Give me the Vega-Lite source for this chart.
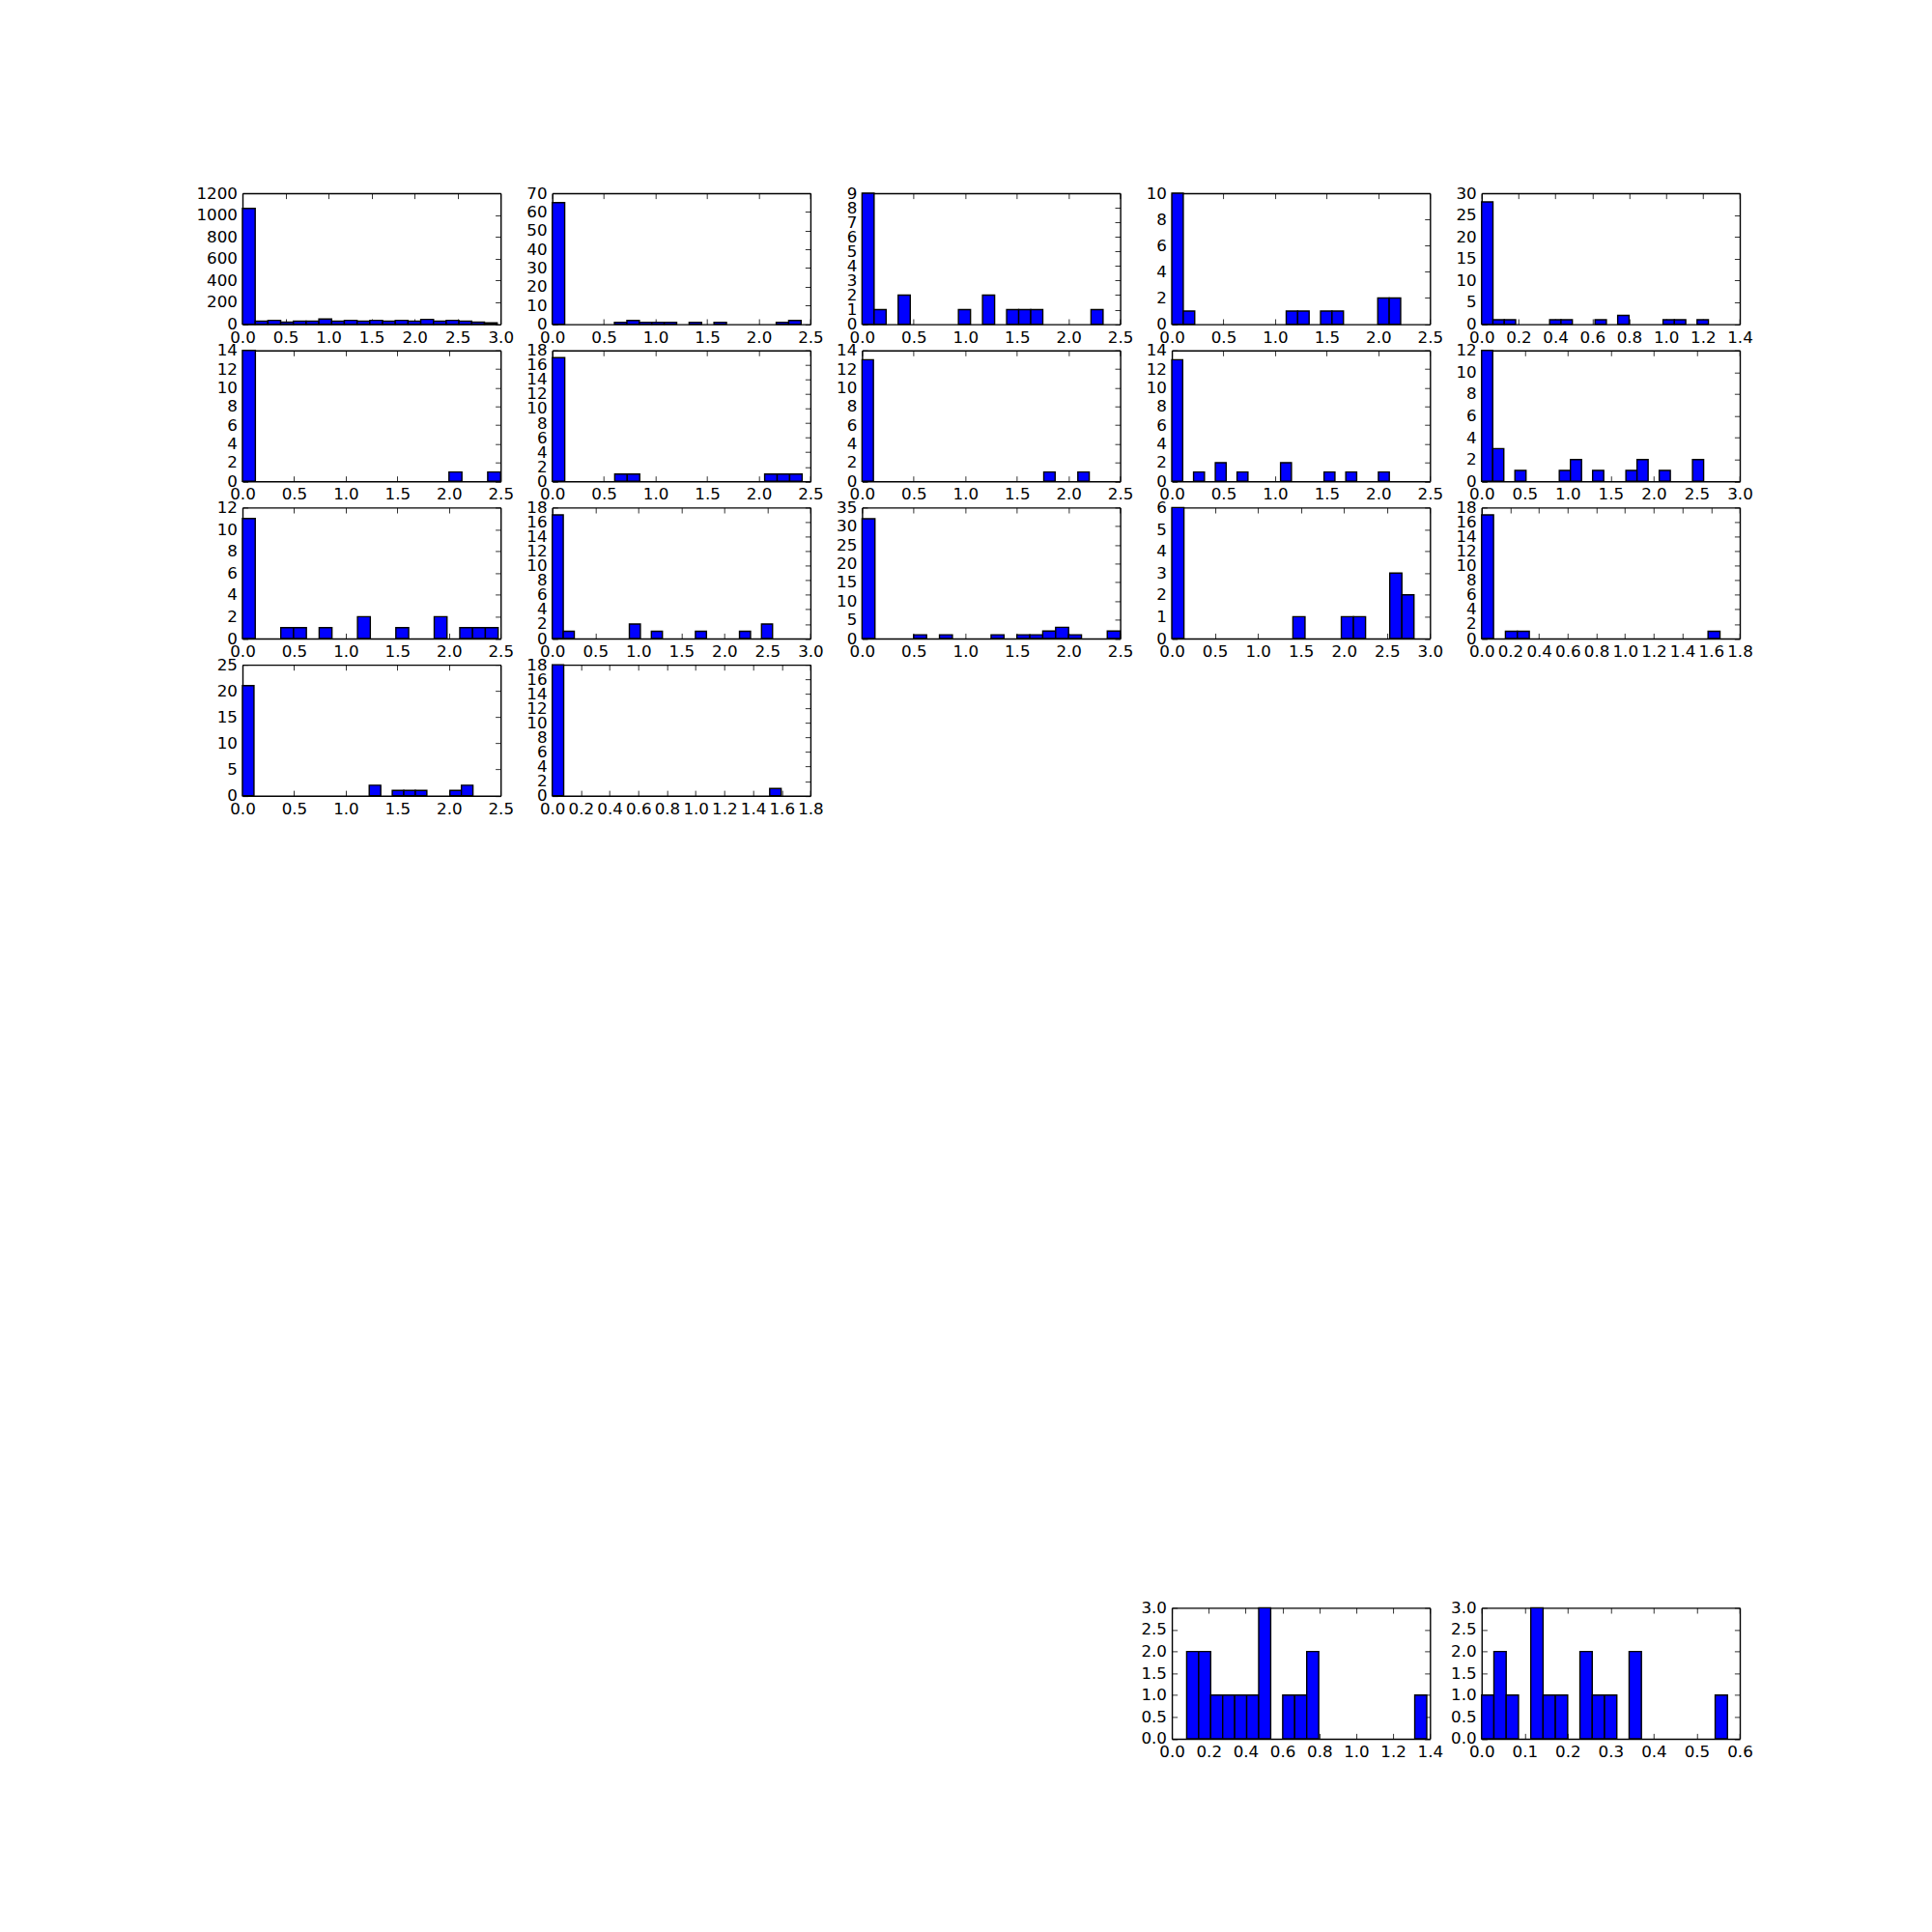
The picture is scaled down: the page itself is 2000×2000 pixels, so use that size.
{
"$schema": "https://vega.github.io/schema/vega-lite/v6.json",
"autosize": {"type": "pad"},
"padding": {"left": 202, "top": 192, "right": 50, "bottom": 50},
"background": "white",
"config": {
  "view": {"stroke": null},
  "axis": {"grid": false, "domainColor": "#000000", "domainWidth": 1.4, "tickColor": "#000000", "tickWidth": 0.8, "tickSize": -5.6, "labelFont": "DejaVu Sans", "labelFontSize": 16.7, "labelColor": "#000000", "labelPadding": 11.2, "labelOverlap": false, "labelFlush": false, "labelBound": false},
  "axisX": {"format": ".1f"},
  "axisY": {"format": "d"}
},
"data": {"values": [
{"p":1,"x0":0,"x1":0.148,"n":1060},
{"p":1,"x0":0.148,"x1":0.296,"n":27},
{"p":1,"x0":0.296,"x1":0.444,"n":35},
{"p":1,"x0":0.444,"x1":0.592,"n":18},
{"p":1,"x0":0.592,"x1":0.74,"n":27},
{"p":1,"x0":0.74,"x1":0.888,"n":27},
{"p":1,"x0":0.888,"x1":1.036,"n":47},
{"p":1,"x0":1.036,"x1":1.184,"n":27},
{"p":1,"x0":1.184,"x1":1.332,"n":35},
{"p":1,"x0":1.332,"x1":1.48,"n":27},
{"p":1,"x0":1.48,"x1":1.628,"n":35},
{"p":1,"x0":1.628,"x1":1.776,"n":27},
{"p":1,"x0":1.776,"x1":1.924,"n":35},
{"p":1,"x0":1.924,"x1":2.072,"n":27},
{"p":1,"x0":2.072,"x1":2.22,"n":44},
{"p":1,"x0":2.22,"x1":2.368,"n":27},
{"p":1,"x0":2.368,"x1":2.516,"n":35},
{"p":1,"x0":2.516,"x1":2.664,"n":27},
{"p":1,"x0":2.664,"x1":2.812,"n":18},
{"p":1,"x0":2.812,"x1":2.96,"n":12},
{"p":2,"x0":0,"x1":0.1205,"n":65},
{"p":2,"x0":0.6025,"x1":0.723,"n":1},
{"p":2,"x0":0.723,"x1":0.8435,"n":2},
{"p":2,"x0":0.8435,"x1":0.964,"n":1},
{"p":2,"x0":0.964,"x1":1.0845,"n":1},
{"p":2,"x0":1.0845,"x1":1.205,"n":1},
{"p":2,"x0":1.3255,"x1":1.446,"n":1},
{"p":2,"x0":1.5665,"x1":1.687,"n":1},
{"p":2,"x0":2.169,"x1":2.2895,"n":1},
{"p":2,"x0":2.2895,"x1":2.41,"n":2},
{"p":3,"x0":0,"x1":0.1167,"n":9},
{"p":3,"x0":0.1167,"x1":0.2334,"n":1},
{"p":3,"x0":0.3501,"x1":0.4668,"n":2},
{"p":3,"x0":0.9336,"x1":1.0503,"n":1},
{"p":3,"x0":1.167,"x1":1.2837,"n":2},
{"p":3,"x0":1.4004,"x1":1.5171,"n":1},
{"p":3,"x0":1.5171,"x1":1.6338,"n":1},
{"p":3,"x0":1.6338,"x1":1.7505,"n":1},
{"p":3,"x0":2.2173,"x1":2.334,"n":1},
{"p":4,"x0":0,"x1":0.1108,"n":10},
{"p":4,"x0":0.1108,"x1":0.2216,"n":1},
{"p":4,"x0":1.108,"x1":1.2188,"n":1},
{"p":4,"x0":1.2188,"x1":1.3296,"n":1},
{"p":4,"x0":1.4404,"x1":1.5512,"n":1},
{"p":4,"x0":1.5512,"x1":1.662,"n":1},
{"p":4,"x0":1.9944,"x1":2.1052,"n":2},
{"p":4,"x0":2.1052,"x1":2.216,"n":2},
{"p":5,"x0":0,"x1":0.0615,"n":28},
{"p":5,"x0":0.0615,"x1":0.123,"n":1},
{"p":5,"x0":0.123,"x1":0.1845,"n":1},
{"p":5,"x0":0.369,"x1":0.4305,"n":1},
{"p":5,"x0":0.4305,"x1":0.492,"n":1},
{"p":5,"x0":0.615,"x1":0.6765,"n":1},
{"p":5,"x0":0.738,"x1":0.7995,"n":2},
{"p":5,"x0":0.984,"x1":1.0455,"n":1},
{"p":5,"x0":1.0455,"x1":1.107,"n":1},
{"p":5,"x0":1.1685,"x1":1.23,"n":1},
{"p":6,"x0":0,"x1":0.125,"n":14},
{"p":6,"x0":2.0,"x1":2.125,"n":1},
{"p":6,"x0":2.375,"x1":2.5,"n":1},
{"p":7,"x0":0,"x1":0.121,"n":17},
{"p":7,"x0":0.605,"x1":0.726,"n":1},
{"p":7,"x0":0.726,"x1":0.847,"n":1},
{"p":7,"x0":2.057,"x1":2.178,"n":1},
{"p":7,"x0":2.178,"x1":2.299,"n":1},
{"p":7,"x0":2.299,"x1":2.42,"n":1},
{"p":8,"x0":0,"x1":0.11,"n":13},
{"p":8,"x0":1.76,"x1":1.87,"n":1},
{"p":8,"x0":2.09,"x1":2.2,"n":1},
{"p":9,"x0":0,"x1":0.1053,"n":13},
{"p":9,"x0":0.2106,"x1":0.3159,"n":1},
{"p":9,"x0":0.4212,"x1":0.5265,"n":2},
{"p":9,"x0":0.6318,"x1":0.7371,"n":1},
{"p":9,"x0":1.053,"x1":1.1583,"n":2},
{"p":9,"x0":1.4742,"x1":1.5795,"n":1},
{"p":9,"x0":1.6848,"x1":1.7901,"n":1},
{"p":9,"x0":2.0007,"x1":2.106,"n":1},
{"p":10,"x0":0,"x1":0.129,"n":12},
{"p":10,"x0":0.129,"x1":0.258,"n":3},
{"p":10,"x0":0.387,"x1":0.516,"n":1},
{"p":10,"x0":0.903,"x1":1.032,"n":1},
{"p":10,"x0":1.032,"x1":1.161,"n":2},
{"p":10,"x0":1.29,"x1":1.419,"n":1},
{"p":10,"x0":1.677,"x1":1.806,"n":1},
{"p":10,"x0":1.806,"x1":1.935,"n":2},
{"p":10,"x0":2.064,"x1":2.193,"n":1},
{"p":10,"x0":2.451,"x1":2.58,"n":2},
{"p":11,"x0":0,"x1":0.1238,"n":11},
{"p":11,"x0":0.3714,"x1":0.4952,"n":1},
{"p":11,"x0":0.4952,"x1":0.619,"n":1},
{"p":11,"x0":0.7428,"x1":0.8666,"n":1},
{"p":11,"x0":1.1142,"x1":1.238,"n":2},
{"p":11,"x0":1.4856,"x1":1.6094,"n":1},
{"p":11,"x0":1.857,"x1":1.9808,"n":2},
{"p":11,"x0":2.1046,"x1":2.2284,"n":1},
{"p":11,"x0":2.2284,"x1":2.3522,"n":1},
{"p":11,"x0":2.3522,"x1":2.476,"n":1},
{"p":12,"x0":0,"x1":0.128,"n":17},
{"p":12,"x0":0.128,"x1":0.256,"n":1},
{"p":12,"x0":0.896,"x1":1.024,"n":2},
{"p":12,"x0":1.152,"x1":1.28,"n":1},
{"p":12,"x0":1.664,"x1":1.792,"n":1},
{"p":12,"x0":2.176,"x1":2.304,"n":1},
{"p":12,"x0":2.432,"x1":2.56,"n":2},
{"p":13,"x0":0,"x1":0.125,"n":32},
{"p":13,"x0":0.5,"x1":0.625,"n":1},
{"p":13,"x0":0.75,"x1":0.875,"n":1},
{"p":13,"x0":1.25,"x1":1.375,"n":1},
{"p":13,"x0":1.5,"x1":1.625,"n":1},
{"p":13,"x0":1.625,"x1":1.75,"n":1},
{"p":13,"x0":1.75,"x1":1.875,"n":2},
{"p":13,"x0":1.875,"x1":2.0,"n":3},
{"p":13,"x0":2.0,"x1":2.125,"n":1},
{"p":13,"x0":2.375,"x1":2.5,"n":2},
{"p":14,"x0":0,"x1":0.1407,"n":6},
{"p":14,"x0":1.407,"x1":1.5477,"n":1},
{"p":14,"x0":1.9698,"x1":2.1105,"n":1},
{"p":14,"x0":2.1105,"x1":2.2512,"n":1},
{"p":14,"x0":2.5326,"x1":2.6733,"n":3},
{"p":14,"x0":2.6733,"x1":2.814,"n":2},
{"p":15,"x0":0,"x1":0.0831,"n":17},
{"p":15,"x0":0.1662,"x1":0.2493,"n":1},
{"p":15,"x0":0.2493,"x1":0.3324,"n":1},
{"p":15,"x0":1.5789,"x1":1.662,"n":1},
{"p":16,"x0":0,"x1":0.1116,"n":21},
{"p":16,"x0":1.2276,"x1":1.3392,"n":2},
{"p":16,"x0":1.4508,"x1":1.5624,"n":1},
{"p":16,"x0":1.5624,"x1":1.674,"n":1},
{"p":16,"x0":1.674,"x1":1.7856,"n":1},
{"p":16,"x0":2.0088,"x1":2.1204,"n":1},
{"p":16,"x0":2.1204,"x1":2.232,"n":2},
{"p":17,"x0":0,"x1":0.0798,"n":18},
{"p":17,"x0":1.5162,"x1":1.596,"n":1},
{"p":18,"x0":0.0805,"x1":0.1456,"n":2},
{"p":18,"x0":0.1456,"x1":0.2107,"n":2},
{"p":18,"x0":0.2107,"x1":0.2758,"n":1},
{"p":18,"x0":0.2758,"x1":0.3409,"n":1},
{"p":18,"x0":0.3409,"x1":0.406,"n":1},
{"p":18,"x0":0.406,"x1":0.4711,"n":1},
{"p":18,"x0":0.4711,"x1":0.5362,"n":3},
{"p":18,"x0":0.6013,"x1":0.6664,"n":1},
{"p":18,"x0":0.6664,"x1":0.7315,"n":1},
{"p":18,"x0":0.7315,"x1":0.7966,"n":2},
{"p":18,"x0":1.3174,"x1":1.3825,"n":1},
{"p":19,"x0":0,"x1":0.02857,"n":1},
{"p":19,"x0":0.02857,"x1":0.05714,"n":2},
{"p":19,"x0":0.05714,"x1":0.08571,"n":1},
{"p":19,"x0":0.11428,"x1":0.14285,"n":3},
{"p":19,"x0":0.14285,"x1":0.17142,"n":1},
{"p":19,"x0":0.17142,"x1":0.19999,"n":1},
{"p":19,"x0":0.22856,"x1":0.25713,"n":2},
{"p":19,"x0":0.25713,"x1":0.2857,"n":1},
{"p":19,"x0":0.2857,"x1":0.31427,"n":1},
{"p":19,"x0":0.34284,"x1":0.37141,"n":2},
{"p":19,"x0":0.54283,"x1":0.5714,"n":1}
]},
"bounds": "flush",
"columns": 5,
"spacing": {"row": 26.71, "column": 52.69},
"concat": [
{"width":267.24,"height":135.59,"transform":[{"filter":"datum.p==1"}],"layer":[
{"mark":{"type":"bar","fill":"#0000ff","stroke":"#000000","strokeWidth":1.4},"encoding":{"x":{"field":"x0","type":"quantitative","scale":{"domain":[0,3],"nice":false,"zero":false},"axis":{"title":null,"orient":"bottom","values":[0,0.5,1,1.5,2,2.5,3]}},"x2":{"field":"x1"},"y":{"field":"n","type":"quantitative","scale":{"domain":[0,1200],"nice":false},"axis":{"title":null,"orient":"left","values":[0,200,400,600,800,1000,1200]}},"y2":{"datum":0}}},
{"mark":{"type":"bar","opacity":0},"encoding":{"x":{"field":"x0","type":"quantitative","scale":{"domain":[0,3],"nice":false,"zero":false},"axis":{"title":null,"orient":"top","labels":false,"values":[0,0.5,1,1.5,2,2.5,3]}},"x2":{"field":"x1"},"y":{"field":"n","type":"quantitative","scale":{"domain":[0,1200],"nice":false},"axis":{"title":null,"orient":"right","labels":false,"values":[0,200,400,600,800,1000,1200]}},"y2":{"datum":0}}}]},
{"width":267.24,"height":135.59,"transform":[{"filter":"datum.p==2"}],"layer":[
{"mark":{"type":"bar","fill":"#0000ff","stroke":"#000000","strokeWidth":1.4},"encoding":{"x":{"field":"x0","type":"quantitative","scale":{"domain":[0,2.5],"nice":false,"zero":false},"axis":{"title":null,"orient":"bottom","values":[0,0.5,1,1.5,2,2.5]}},"x2":{"field":"x1"},"y":{"field":"n","type":"quantitative","scale":{"domain":[0,70],"nice":false},"axis":{"title":null,"orient":"left","values":[0,10,20,30,40,50,60,70]}},"y2":{"datum":0}}},
{"mark":{"type":"bar","opacity":0},"encoding":{"x":{"field":"x0","type":"quantitative","scale":{"domain":[0,2.5],"nice":false,"zero":false},"axis":{"title":null,"orient":"top","labels":false,"values":[0,0.5,1,1.5,2,2.5]}},"x2":{"field":"x1"},"y":{"field":"n","type":"quantitative","scale":{"domain":[0,70],"nice":false},"axis":{"title":null,"orient":"right","labels":false,"values":[0,10,20,30,40,50,60,70]}},"y2":{"datum":0}}}]},
{"width":267.24,"height":135.59,"transform":[{"filter":"datum.p==3"}],"layer":[
{"mark":{"type":"bar","fill":"#0000ff","stroke":"#000000","strokeWidth":1.4},"encoding":{"x":{"field":"x0","type":"quantitative","scale":{"domain":[0,2.5],"nice":false,"zero":false},"axis":{"title":null,"orient":"bottom","values":[0,0.5,1,1.5,2,2.5]}},"x2":{"field":"x1"},"y":{"field":"n","type":"quantitative","scale":{"domain":[0,9],"nice":false},"axis":{"title":null,"orient":"left","values":[0,1,2,3,4,5,6,7,8,9]}},"y2":{"datum":0}}},
{"mark":{"type":"bar","opacity":0},"encoding":{"x":{"field":"x0","type":"quantitative","scale":{"domain":[0,2.5],"nice":false,"zero":false},"axis":{"title":null,"orient":"top","labels":false,"values":[0,0.5,1,1.5,2,2.5]}},"x2":{"field":"x1"},"y":{"field":"n","type":"quantitative","scale":{"domain":[0,9],"nice":false},"axis":{"title":null,"orient":"right","labels":false,"values":[0,1,2,3,4,5,6,7,8,9]}},"y2":{"datum":0}}}]},
{"width":267.24,"height":135.59,"transform":[{"filter":"datum.p==4"}],"layer":[
{"mark":{"type":"bar","fill":"#0000ff","stroke":"#000000","strokeWidth":1.4},"encoding":{"x":{"field":"x0","type":"quantitative","scale":{"domain":[0,2.5],"nice":false,"zero":false},"axis":{"title":null,"orient":"bottom","values":[0,0.5,1,1.5,2,2.5]}},"x2":{"field":"x1"},"y":{"field":"n","type":"quantitative","scale":{"domain":[0,10],"nice":false},"axis":{"title":null,"orient":"left","values":[0,2,4,6,8,10]}},"y2":{"datum":0}}},
{"mark":{"type":"bar","opacity":0},"encoding":{"x":{"field":"x0","type":"quantitative","scale":{"domain":[0,2.5],"nice":false,"zero":false},"axis":{"title":null,"orient":"top","labels":false,"values":[0,0.5,1,1.5,2,2.5]}},"x2":{"field":"x1"},"y":{"field":"n","type":"quantitative","scale":{"domain":[0,10],"nice":false},"axis":{"title":null,"orient":"right","labels":false,"values":[0,2,4,6,8,10]}},"y2":{"datum":0}}}]},
{"width":267.24,"height":135.59,"transform":[{"filter":"datum.p==5"}],"layer":[
{"mark":{"type":"bar","fill":"#0000ff","stroke":"#000000","strokeWidth":1.4},"encoding":{"x":{"field":"x0","type":"quantitative","scale":{"domain":[0,1.4],"nice":false,"zero":false},"axis":{"title":null,"orient":"bottom","values":[0,0.2,0.4,0.6,0.8,1,1.2,1.4]}},"x2":{"field":"x1"},"y":{"field":"n","type":"quantitative","scale":{"domain":[0,30],"nice":false},"axis":{"title":null,"orient":"left","values":[0,5,10,15,20,25,30]}},"y2":{"datum":0}}},
{"mark":{"type":"bar","opacity":0},"encoding":{"x":{"field":"x0","type":"quantitative","scale":{"domain":[0,1.4],"nice":false,"zero":false},"axis":{"title":null,"orient":"top","labels":false,"values":[0,0.2,0.4,0.6,0.8,1,1.2,1.4]}},"x2":{"field":"x1"},"y":{"field":"n","type":"quantitative","scale":{"domain":[0,30],"nice":false},"axis":{"title":null,"orient":"right","labels":false,"values":[0,5,10,15,20,25,30]}},"y2":{"datum":0}}}]},
{"width":267.24,"height":135.59,"transform":[{"filter":"datum.p==6"}],"layer":[
{"mark":{"type":"bar","fill":"#0000ff","stroke":"#000000","strokeWidth":1.4},"encoding":{"x":{"field":"x0","type":"quantitative","scale":{"domain":[0,2.5],"nice":false,"zero":false},"axis":{"title":null,"orient":"bottom","values":[0,0.5,1,1.5,2,2.5]}},"x2":{"field":"x1"},"y":{"field":"n","type":"quantitative","scale":{"domain":[0,14],"nice":false},"axis":{"title":null,"orient":"left","values":[0,2,4,6,8,10,12,14]}},"y2":{"datum":0}}},
{"mark":{"type":"bar","opacity":0},"encoding":{"x":{"field":"x0","type":"quantitative","scale":{"domain":[0,2.5],"nice":false,"zero":false},"axis":{"title":null,"orient":"top","labels":false,"values":[0,0.5,1,1.5,2,2.5]}},"x2":{"field":"x1"},"y":{"field":"n","type":"quantitative","scale":{"domain":[0,14],"nice":false},"axis":{"title":null,"orient":"right","labels":false,"values":[0,2,4,6,8,10,12,14]}},"y2":{"datum":0}}}]},
{"width":267.24,"height":135.59,"transform":[{"filter":"datum.p==7"}],"layer":[
{"mark":{"type":"bar","fill":"#0000ff","stroke":"#000000","strokeWidth":1.4},"encoding":{"x":{"field":"x0","type":"quantitative","scale":{"domain":[0,2.5],"nice":false,"zero":false},"axis":{"title":null,"orient":"bottom","values":[0,0.5,1,1.5,2,2.5]}},"x2":{"field":"x1"},"y":{"field":"n","type":"quantitative","scale":{"domain":[0,18],"nice":false},"axis":{"title":null,"orient":"left","values":[0,2,4,6,8,10,12,14,16,18]}},"y2":{"datum":0}}},
{"mark":{"type":"bar","opacity":0},"encoding":{"x":{"field":"x0","type":"quantitative","scale":{"domain":[0,2.5],"nice":false,"zero":false},"axis":{"title":null,"orient":"top","labels":false,"values":[0,0.5,1,1.5,2,2.5]}},"x2":{"field":"x1"},"y":{"field":"n","type":"quantitative","scale":{"domain":[0,18],"nice":false},"axis":{"title":null,"orient":"right","labels":false,"values":[0,2,4,6,8,10,12,14,16,18]}},"y2":{"datum":0}}}]},
{"width":267.24,"height":135.59,"transform":[{"filter":"datum.p==8"}],"layer":[
{"mark":{"type":"bar","fill":"#0000ff","stroke":"#000000","strokeWidth":1.4},"encoding":{"x":{"field":"x0","type":"quantitative","scale":{"domain":[0,2.5],"nice":false,"zero":false},"axis":{"title":null,"orient":"bottom","values":[0,0.5,1,1.5,2,2.5]}},"x2":{"field":"x1"},"y":{"field":"n","type":"quantitative","scale":{"domain":[0,14],"nice":false},"axis":{"title":null,"orient":"left","values":[0,2,4,6,8,10,12,14]}},"y2":{"datum":0}}},
{"mark":{"type":"bar","opacity":0},"encoding":{"x":{"field":"x0","type":"quantitative","scale":{"domain":[0,2.5],"nice":false,"zero":false},"axis":{"title":null,"orient":"top","labels":false,"values":[0,0.5,1,1.5,2,2.5]}},"x2":{"field":"x1"},"y":{"field":"n","type":"quantitative","scale":{"domain":[0,14],"nice":false},"axis":{"title":null,"orient":"right","labels":false,"values":[0,2,4,6,8,10,12,14]}},"y2":{"datum":0}}}]},
{"width":267.24,"height":135.59,"transform":[{"filter":"datum.p==9"}],"layer":[
{"mark":{"type":"bar","fill":"#0000ff","stroke":"#000000","strokeWidth":1.4},"encoding":{"x":{"field":"x0","type":"quantitative","scale":{"domain":[0,2.5],"nice":false,"zero":false},"axis":{"title":null,"orient":"bottom","values":[0,0.5,1,1.5,2,2.5]}},"x2":{"field":"x1"},"y":{"field":"n","type":"quantitative","scale":{"domain":[0,14],"nice":false},"axis":{"title":null,"orient":"left","values":[0,2,4,6,8,10,12,14]}},"y2":{"datum":0}}},
{"mark":{"type":"bar","opacity":0},"encoding":{"x":{"field":"x0","type":"quantitative","scale":{"domain":[0,2.5],"nice":false,"zero":false},"axis":{"title":null,"orient":"top","labels":false,"values":[0,0.5,1,1.5,2,2.5]}},"x2":{"field":"x1"},"y":{"field":"n","type":"quantitative","scale":{"domain":[0,14],"nice":false},"axis":{"title":null,"orient":"right","labels":false,"values":[0,2,4,6,8,10,12,14]}},"y2":{"datum":0}}}]},
{"width":267.24,"height":135.59,"transform":[{"filter":"datum.p==10"}],"layer":[
{"mark":{"type":"bar","fill":"#0000ff","stroke":"#000000","strokeWidth":1.4},"encoding":{"x":{"field":"x0","type":"quantitative","scale":{"domain":[0,3],"nice":false,"zero":false},"axis":{"title":null,"orient":"bottom","values":[0,0.5,1,1.5,2,2.5,3]}},"x2":{"field":"x1"},"y":{"field":"n","type":"quantitative","scale":{"domain":[0,12],"nice":false},"axis":{"title":null,"orient":"left","values":[0,2,4,6,8,10,12]}},"y2":{"datum":0}}},
{"mark":{"type":"bar","opacity":0},"encoding":{"x":{"field":"x0","type":"quantitative","scale":{"domain":[0,3],"nice":false,"zero":false},"axis":{"title":null,"orient":"top","labels":false,"values":[0,0.5,1,1.5,2,2.5,3]}},"x2":{"field":"x1"},"y":{"field":"n","type":"quantitative","scale":{"domain":[0,12],"nice":false},"axis":{"title":null,"orient":"right","labels":false,"values":[0,2,4,6,8,10,12]}},"y2":{"datum":0}}}]},
{"width":267.24,"height":135.59,"transform":[{"filter":"datum.p==11"}],"layer":[
{"mark":{"type":"bar","fill":"#0000ff","stroke":"#000000","strokeWidth":1.4},"encoding":{"x":{"field":"x0","type":"quantitative","scale":{"domain":[0,2.5],"nice":false,"zero":false},"axis":{"title":null,"orient":"bottom","values":[0,0.5,1,1.5,2,2.5]}},"x2":{"field":"x1"},"y":{"field":"n","type":"quantitative","scale":{"domain":[0,12],"nice":false},"axis":{"title":null,"orient":"left","values":[0,2,4,6,8,10,12]}},"y2":{"datum":0}}},
{"mark":{"type":"bar","opacity":0},"encoding":{"x":{"field":"x0","type":"quantitative","scale":{"domain":[0,2.5],"nice":false,"zero":false},"axis":{"title":null,"orient":"top","labels":false,"values":[0,0.5,1,1.5,2,2.5]}},"x2":{"field":"x1"},"y":{"field":"n","type":"quantitative","scale":{"domain":[0,12],"nice":false},"axis":{"title":null,"orient":"right","labels":false,"values":[0,2,4,6,8,10,12]}},"y2":{"datum":0}}}]},
{"width":267.24,"height":135.59,"transform":[{"filter":"datum.p==12"}],"layer":[
{"mark":{"type":"bar","fill":"#0000ff","stroke":"#000000","strokeWidth":1.4},"encoding":{"x":{"field":"x0","type":"quantitative","scale":{"domain":[0,3],"nice":false,"zero":false},"axis":{"title":null,"orient":"bottom","values":[0,0.5,1,1.5,2,2.5,3]}},"x2":{"field":"x1"},"y":{"field":"n","type":"quantitative","scale":{"domain":[0,18],"nice":false},"axis":{"title":null,"orient":"left","values":[0,2,4,6,8,10,12,14,16,18]}},"y2":{"datum":0}}},
{"mark":{"type":"bar","opacity":0},"encoding":{"x":{"field":"x0","type":"quantitative","scale":{"domain":[0,3],"nice":false,"zero":false},"axis":{"title":null,"orient":"top","labels":false,"values":[0,0.5,1,1.5,2,2.5,3]}},"x2":{"field":"x1"},"y":{"field":"n","type":"quantitative","scale":{"domain":[0,18],"nice":false},"axis":{"title":null,"orient":"right","labels":false,"values":[0,2,4,6,8,10,12,14,16,18]}},"y2":{"datum":0}}}]},
{"width":267.24,"height":135.59,"transform":[{"filter":"datum.p==13"}],"layer":[
{"mark":{"type":"bar","fill":"#0000ff","stroke":"#000000","strokeWidth":1.4},"encoding":{"x":{"field":"x0","type":"quantitative","scale":{"domain":[0,2.5],"nice":false,"zero":false},"axis":{"title":null,"orient":"bottom","values":[0,0.5,1,1.5,2,2.5]}},"x2":{"field":"x1"},"y":{"field":"n","type":"quantitative","scale":{"domain":[0,35],"nice":false},"axis":{"title":null,"orient":"left","values":[0,5,10,15,20,25,30,35]}},"y2":{"datum":0}}},
{"mark":{"type":"bar","opacity":0},"encoding":{"x":{"field":"x0","type":"quantitative","scale":{"domain":[0,2.5],"nice":false,"zero":false},"axis":{"title":null,"orient":"top","labels":false,"values":[0,0.5,1,1.5,2,2.5]}},"x2":{"field":"x1"},"y":{"field":"n","type":"quantitative","scale":{"domain":[0,35],"nice":false},"axis":{"title":null,"orient":"right","labels":false,"values":[0,5,10,15,20,25,30,35]}},"y2":{"datum":0}}}]},
{"width":267.24,"height":135.59,"transform":[{"filter":"datum.p==14"}],"layer":[
{"mark":{"type":"bar","fill":"#0000ff","stroke":"#000000","strokeWidth":1.4},"encoding":{"x":{"field":"x0","type":"quantitative","scale":{"domain":[0,3],"nice":false,"zero":false},"axis":{"title":null,"orient":"bottom","values":[0,0.5,1,1.5,2,2.5,3]}},"x2":{"field":"x1"},"y":{"field":"n","type":"quantitative","scale":{"domain":[0,6],"nice":false},"axis":{"title":null,"orient":"left","values":[0,1,2,3,4,5,6]}},"y2":{"datum":0}}},
{"mark":{"type":"bar","opacity":0},"encoding":{"x":{"field":"x0","type":"quantitative","scale":{"domain":[0,3],"nice":false,"zero":false},"axis":{"title":null,"orient":"top","labels":false,"values":[0,0.5,1,1.5,2,2.5,3]}},"x2":{"field":"x1"},"y":{"field":"n","type":"quantitative","scale":{"domain":[0,6],"nice":false},"axis":{"title":null,"orient":"right","labels":false,"values":[0,1,2,3,4,5,6]}},"y2":{"datum":0}}}]},
{"width":267.24,"height":135.59,"transform":[{"filter":"datum.p==15"}],"layer":[
{"mark":{"type":"bar","fill":"#0000ff","stroke":"#000000","strokeWidth":1.4},"encoding":{"x":{"field":"x0","type":"quantitative","scale":{"domain":[0,1.8],"nice":false,"zero":false},"axis":{"title":null,"orient":"bottom","values":[0,0.2,0.4,0.6,0.8,1,1.2,1.4,1.6,1.8]}},"x2":{"field":"x1"},"y":{"field":"n","type":"quantitative","scale":{"domain":[0,18],"nice":false},"axis":{"title":null,"orient":"left","values":[0,2,4,6,8,10,12,14,16,18]}},"y2":{"datum":0}}},
{"mark":{"type":"bar","opacity":0},"encoding":{"x":{"field":"x0","type":"quantitative","scale":{"domain":[0,1.8],"nice":false,"zero":false},"axis":{"title":null,"orient":"top","labels":false,"values":[0,0.2,0.4,0.6,0.8,1,1.2,1.4,1.6,1.8]}},"x2":{"field":"x1"},"y":{"field":"n","type":"quantitative","scale":{"domain":[0,18],"nice":false},"axis":{"title":null,"orient":"right","labels":false,"values":[0,2,4,6,8,10,12,14,16,18]}},"y2":{"datum":0}}}]},
{"width":267.24,"height":135.59,"transform":[{"filter":"datum.p==16"}],"layer":[
{"mark":{"type":"bar","fill":"#0000ff","stroke":"#000000","strokeWidth":1.4},"encoding":{"x":{"field":"x0","type":"quantitative","scale":{"domain":[0,2.5],"nice":false,"zero":false},"axis":{"title":null,"orient":"bottom","values":[0,0.5,1,1.5,2,2.5]}},"x2":{"field":"x1"},"y":{"field":"n","type":"quantitative","scale":{"domain":[0,25],"nice":false},"axis":{"title":null,"orient":"left","values":[0,5,10,15,20,25]}},"y2":{"datum":0}}},
{"mark":{"type":"bar","opacity":0},"encoding":{"x":{"field":"x0","type":"quantitative","scale":{"domain":[0,2.5],"nice":false,"zero":false},"axis":{"title":null,"orient":"top","labels":false,"values":[0,0.5,1,1.5,2,2.5]}},"x2":{"field":"x1"},"y":{"field":"n","type":"quantitative","scale":{"domain":[0,25],"nice":false},"axis":{"title":null,"orient":"right","labels":false,"values":[0,5,10,15,20,25]}},"y2":{"datum":0}}}]},
{"width":267.24,"height":135.59,"transform":[{"filter":"datum.p==17"}],"layer":[
{"mark":{"type":"bar","fill":"#0000ff","stroke":"#000000","strokeWidth":1.4},"encoding":{"x":{"field":"x0","type":"quantitative","scale":{"domain":[0,1.8],"nice":false,"zero":false},"axis":{"title":null,"orient":"bottom","values":[0,0.2,0.4,0.6,0.8,1,1.2,1.4,1.6,1.8]}},"x2":{"field":"x1"},"y":{"field":"n","type":"quantitative","scale":{"domain":[0,18],"nice":false},"axis":{"title":null,"orient":"left","values":[0,2,4,6,8,10,12,14,16,18]}},"y2":{"datum":0}}},
{"mark":{"type":"bar","opacity":0},"encoding":{"x":{"field":"x0","type":"quantitative","scale":{"domain":[0,1.8],"nice":false,"zero":false},"axis":{"title":null,"orient":"top","labels":false,"values":[0,0.2,0.4,0.6,0.8,1,1.2,1.4,1.6,1.8]}},"x2":{"field":"x1"},"y":{"field":"n","type":"quantitative","scale":{"domain":[0,18],"nice":false},"axis":{"title":null,"orient":"right","labels":false,"values":[0,2,4,6,8,10,12,14,16,18]}},"y2":{"datum":0}}}]},
{"width":267.24,"height":135.59,"transform":[{"filter":"datum.p==0"}],"mark":{"type":"point","opacity":0},"encoding":{}},
{"width":267.24,"height":135.59,"transform":[{"filter":"datum.p==0"}],"mark":{"type":"point","opacity":0},"encoding":{}},
{"width":267.24,"height":135.59,"transform":[{"filter":"datum.p==0"}],"mark":{"type":"point","opacity":0},"encoding":{}},
{"width":267.24,"height":135.59,"transform":[{"filter":"datum.p==0"}],"mark":{"type":"point","opacity":0},"encoding":{}},
{"width":267.24,"height":135.59,"transform":[{"filter":"datum.p==0"}],"mark":{"type":"point","opacity":0},"encoding":{}},
{"width":267.24,"height":135.59,"transform":[{"filter":"datum.p==0"}],"mark":{"type":"point","opacity":0},"encoding":{}},
{"width":267.24,"height":135.59,"transform":[{"filter":"datum.p==0"}],"mark":{"type":"point","opacity":0},"encoding":{}},
{"width":267.24,"height":135.59,"transform":[{"filter":"datum.p==0"}],"mark":{"type":"point","opacity":0},"encoding":{}},
{"width":267.24,"height":135.59,"transform":[{"filter":"datum.p==0"}],"mark":{"type":"point","opacity":0},"encoding":{}},
{"width":267.24,"height":135.59,"transform":[{"filter":"datum.p==0"}],"mark":{"type":"point","opacity":0},"encoding":{}},
{"width":267.24,"height":135.59,"transform":[{"filter":"datum.p==0"}],"mark":{"type":"point","opacity":0},"encoding":{}},
{"width":267.24,"height":135.59,"transform":[{"filter":"datum.p==0"}],"mark":{"type":"point","opacity":0},"encoding":{}},
{"width":267.24,"height":135.59,"transform":[{"filter":"datum.p==0"}],"mark":{"type":"point","opacity":0},"encoding":{}},
{"width":267.24,"height":135.59,"transform":[{"filter":"datum.p==0"}],"mark":{"type":"point","opacity":0},"encoding":{}},
{"width":267.24,"height":135.59,"transform":[{"filter":"datum.p==0"}],"mark":{"type":"point","opacity":0},"encoding":{}},
{"width":267.24,"height":135.59,"transform":[{"filter":"datum.p==0"}],"mark":{"type":"point","opacity":0},"encoding":{}},
{"width":267.24,"height":135.59,"transform":[{"filter":"datum.p==0"}],"mark":{"type":"point","opacity":0},"encoding":{}},
{"width":267.24,"height":135.59,"transform":[{"filter":"datum.p==0"}],"mark":{"type":"point","opacity":0},"encoding":{}},
{"width":267.24,"height":135.59,"transform":[{"filter":"datum.p==0"}],"mark":{"type":"point","opacity":0},"encoding":{}},
{"width":267.24,"height":135.59,"transform":[{"filter":"datum.p==0"}],"mark":{"type":"point","opacity":0},"encoding":{}},
{"width":267.24,"height":135.59,"transform":[{"filter":"datum.p==0"}],"mark":{"type":"point","opacity":0},"encoding":{}},
{"width":267.24,"height":135.59,"transform":[{"filter":"datum.p==0"}],"mark":{"type":"point","opacity":0},"encoding":{}},
{"width":267.24,"height":135.59,"transform":[{"filter":"datum.p==0"}],"mark":{"type":"point","opacity":0},"encoding":{}},
{"width":267.24,"height":135.59,"transform":[{"filter":"datum.p==0"}],"mark":{"type":"point","opacity":0},"encoding":{}},
{"width":267.24,"height":135.59,"transform":[{"filter":"datum.p==0"}],"mark":{"type":"point","opacity":0},"encoding":{}},
{"width":267.24,"height":135.59,"transform":[{"filter":"datum.p==0"}],"mark":{"type":"point","opacity":0},"encoding":{}},
{"width":267.24,"height":135.59,"transform":[{"filter":"datum.p==0"}],"mark":{"type":"point","opacity":0},"encoding":{}},
{"width":267.24,"height":135.59,"transform":[{"filter":"datum.p==0"}],"mark":{"type":"point","opacity":0},"encoding":{}},
{"width":267.24,"height":135.59,"transform":[{"filter":"datum.p==0"}],"mark":{"type":"point","opacity":0},"encoding":{}},
{"width":267.24,"height":135.59,"transform":[{"filter":"datum.p==0"}],"mark":{"type":"point","opacity":0},"encoding":{}},
{"width":267.24,"height":135.59,"transform":[{"filter":"datum.p==0"}],"mark":{"type":"point","opacity":0},"encoding":{}},
{"width":267.24,"height":135.59,"transform":[{"filter":"datum.p==18"}],"layer":[
{"mark":{"type":"bar","fill":"#0000ff","stroke":"#000000","strokeWidth":1.4},"encoding":{"x":{"field":"x0","type":"quantitative","scale":{"domain":[0,1.4],"nice":false,"zero":false},"axis":{"title":null,"orient":"bottom","values":[0,0.2,0.4,0.6,0.8,1,1.2,1.4]}},"x2":{"field":"x1"},"y":{"field":"n","type":"quantitative","scale":{"domain":[0,3],"nice":false},"axis":{"title":null,"orient":"left","format":".1f","values":[0,0.5,1,1.5,2,2.5,3]}},"y2":{"datum":0}}},
{"mark":{"type":"bar","opacity":0},"encoding":{"x":{"field":"x0","type":"quantitative","scale":{"domain":[0,1.4],"nice":false,"zero":false},"axis":{"title":null,"orient":"top","labels":false,"values":[0,0.2,0.4,0.6,0.8,1,1.2,1.4]}},"x2":{"field":"x1"},"y":{"field":"n","type":"quantitative","scale":{"domain":[0,3],"nice":false},"axis":{"title":null,"orient":"right","labels":false,"values":[0,0.5,1,1.5,2,2.5,3]}},"y2":{"datum":0}}}]},
{"width":267.24,"height":135.59,"transform":[{"filter":"datum.p==19"}],"layer":[
{"mark":{"type":"bar","fill":"#0000ff","stroke":"#000000","strokeWidth":1.4},"encoding":{"x":{"field":"x0","type":"quantitative","scale":{"domain":[0,0.6],"nice":false,"zero":false},"axis":{"title":null,"orient":"bottom","values":[0,0.1,0.2,0.3,0.4,0.5,0.6]}},"x2":{"field":"x1"},"y":{"field":"n","type":"quantitative","scale":{"domain":[0,3],"nice":false},"axis":{"title":null,"orient":"left","format":".1f","values":[0,0.5,1,1.5,2,2.5,3]}},"y2":{"datum":0}}},
{"mark":{"type":"bar","opacity":0},"encoding":{"x":{"field":"x0","type":"quantitative","scale":{"domain":[0,0.6],"nice":false,"zero":false},"axis":{"title":null,"orient":"top","labels":false,"values":[0,0.1,0.2,0.3,0.4,0.5,0.6]}},"x2":{"field":"x1"},"y":{"field":"n","type":"quantitative","scale":{"domain":[0,3],"nice":false},"axis":{"title":null,"orient":"right","labels":false,"values":[0,0.5,1,1.5,2,2.5,3]}},"y2":{"datum":0}}}]}
]
}
